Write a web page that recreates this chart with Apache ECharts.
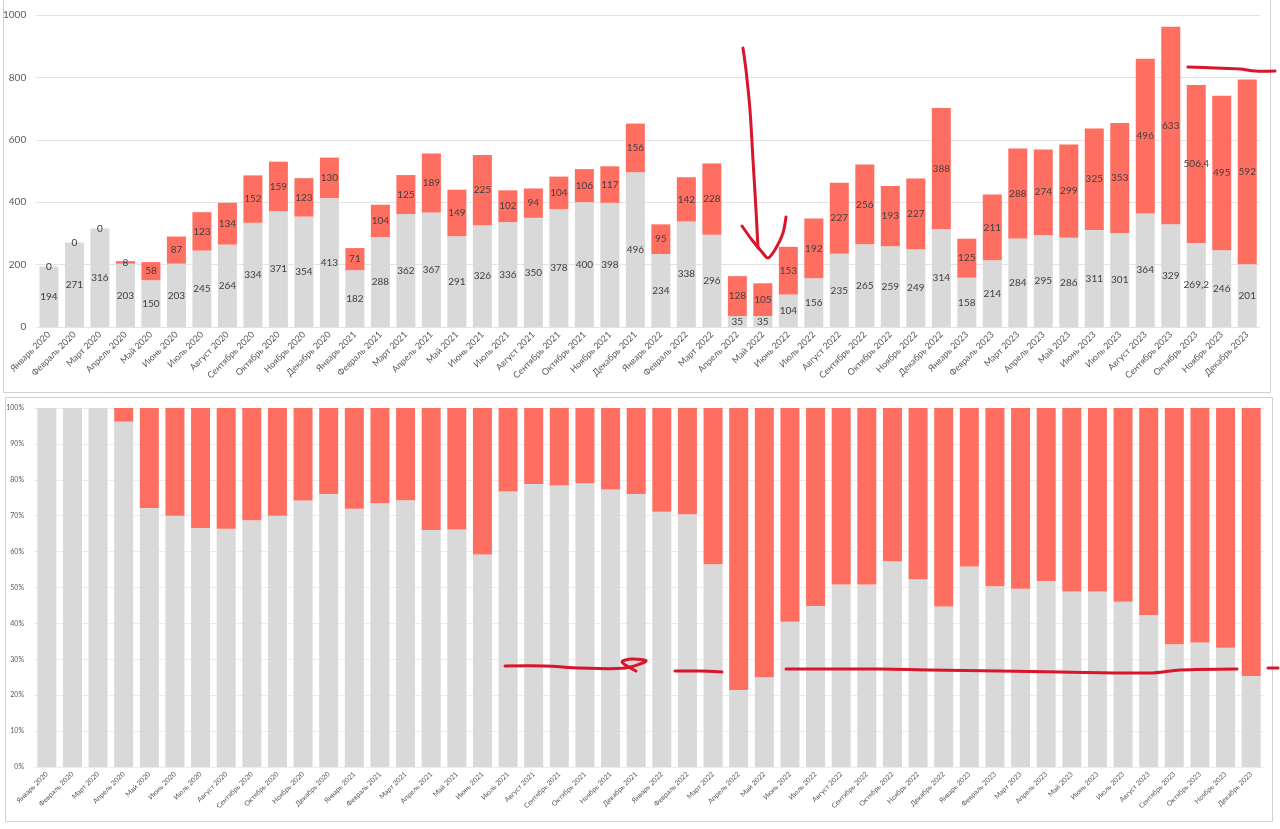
<!DOCTYPE html>
<html><head><meta charset="utf-8">
<script src="https://cdn.jsdelivr.net/npm/echarts@6/dist/echarts.min.js"></script>
<style>html,body{margin:0;padding:0;background:#fff}#c{width:1280px;height:829px}</style>
</head><body><div id="c"></div>
<script>
const months = ['Январь','Февраль','Март','Апрель','Май','Июнь','Июль','Август','Сентябрь','Октябрь','Ноябрь','Декабрь'];
const years = [2020, 2021, 2022, 2023];
const categories = [];
years.forEach(y => months.forEach(m => categories.push(m + ' ' + y)));

const greyValues = [194,271,316,203,150,203,245,264,334,371,354,413,
  182,288,362,367,291,326,336,350,378,400,398,496,
  234,338,296,35,35,104,156,235,265,259,249,314,
  158,214,284,295,286,311,301,364,329,269.2,246,201];
const redValues = [0,0,0,8,58,87,123,134,152,159,123,130,
  71,104,125,189,149,225,102,94,104,106,117,156,
  95,142,228,128,105,153,192,227,256,193,227,388,
  125,211,288,274,299,325,353,496,633,506.4,495,592];

const greyPct = greyValues.map((g,i)=> g/(g+redValues[i])*100);
const redPct = redValues.map((r,i)=> r/(greyValues[i]+r)*100);

const GREY = '#D9D9D9', RED = '#FF6F61', INK = '#404040', AX = '#595959';
const FONT = 'Lato';
const fmt = p => String(p.value).replace('.', ',');

const chart = echarts.init(document.getElementById('c'));
const ann = '#D8152B';
function pl(points){ return {type:'polyline', shape:{points, smooth:0.3}, style:{stroke:ann, lineWidth:3, fill:null, lineCap:'round', lineJoin:'round'}, z:100}; }

chart.setOption({
  animation:false,
  textStyle:{fontFamily:FONT},
  grid:[
    {left:35, right:20, top:15, bottom:502, containLabel:false},
    {left:34, right:16, top:408, bottom:62, containLabel:false}
  ],
  xAxis:[
    {type:'category', gridIndex:0, data:categories, axisLine:{show:false}, axisTick:{show:false},
     axisLabel:{rotate:45, interval:0, fontSize:9, color:AX, margin:6, fontFamily:FONT}},
    {type:'category', gridIndex:1, data:categories, axisLine:{show:false}, axisTick:{show:false},
     axisLabel:{rotate:45, interval:0, fontSize:7, color:AX, margin:6, fontFamily:FONT}}
  ],
  yAxis:[
    {type:'value', gridIndex:0, min:0, max:1000, interval:200,
     axisLabel:{fontSize:10, color:AX, margin:10, fontFamily:FONT, formatter: v => String(v)},
     splitLine:{lineStyle:{color:'#E3E3E3'}}},
    {type:'value', gridIndex:1, min:0, max:100, interval:10,
     axisLabel:{fontSize:7, color:AX, margin:10, formatter: v => v + '%', fontFamily:FONT},
     splitLine:{lineStyle:{color:'#ECECEC'}}}
  ],
  series:[
    {type:'bar', xAxisIndex:0, yAxisIndex:0, stack:'a', data:greyValues, barWidth:19,
     itemStyle:{color:GREY},
     label:{show:true, position:'inside', color:INK, fontSize:10, formatter:fmt, fontFamily:FONT}},
    {type:'bar', xAxisIndex:0, yAxisIndex:0, stack:'a', data:redValues, barWidth:19,
     itemStyle:{color:RED},
     label:{show:true, position:'inside', color:INK, fontSize:10, formatter:fmt, fontFamily:FONT}},
    {type:'bar', xAxisIndex:1, yAxisIndex:1, stack:'b', data:greyPct, barWidth:19,
     itemStyle:{color:GREY}},
    {type:'bar', xAxisIndex:1, yAxisIndex:1, stack:'b', data:redPct, barWidth:19,
     itemStyle:{color:RED}}
  ],
  graphic:[
    {type:'rect', shape:{x:3.5, y:-2, width:1267, height:394.5}, style:{stroke:'#D0D0D0', fill:null, lineWidth:1}, z:-1},
    {type:'rect', shape:{x:5.5, y:397.5, width:1267, height:424}, style:{stroke:'#D0D0D0', fill:null, lineWidth:1}, z:-1},
    pl([[743,48],[746,70],[750,110],[753,160],[756,210],[758,248]]),
    pl([[742,226],[752,240],[762,252],[768,258],[776,248],[783,233],[786,217]]),
    pl([[1188,67],[1215,68],[1240,69],[1255,71],[1275,71]]),
    pl([[505,666],[545,666],[580,668],[625,668],[646,661],[632,659],[622,662],[636,671]]),
    pl([[675,671],[700,671],[722,672]]),
    pl([[786,669],[880,669],[930,670],[1000,671],[1060,672],[1150,673],[1180,670],[1237,669]]),
    pl([[1268,668],[1278,668]])
  ]
});
</script></body></html>
